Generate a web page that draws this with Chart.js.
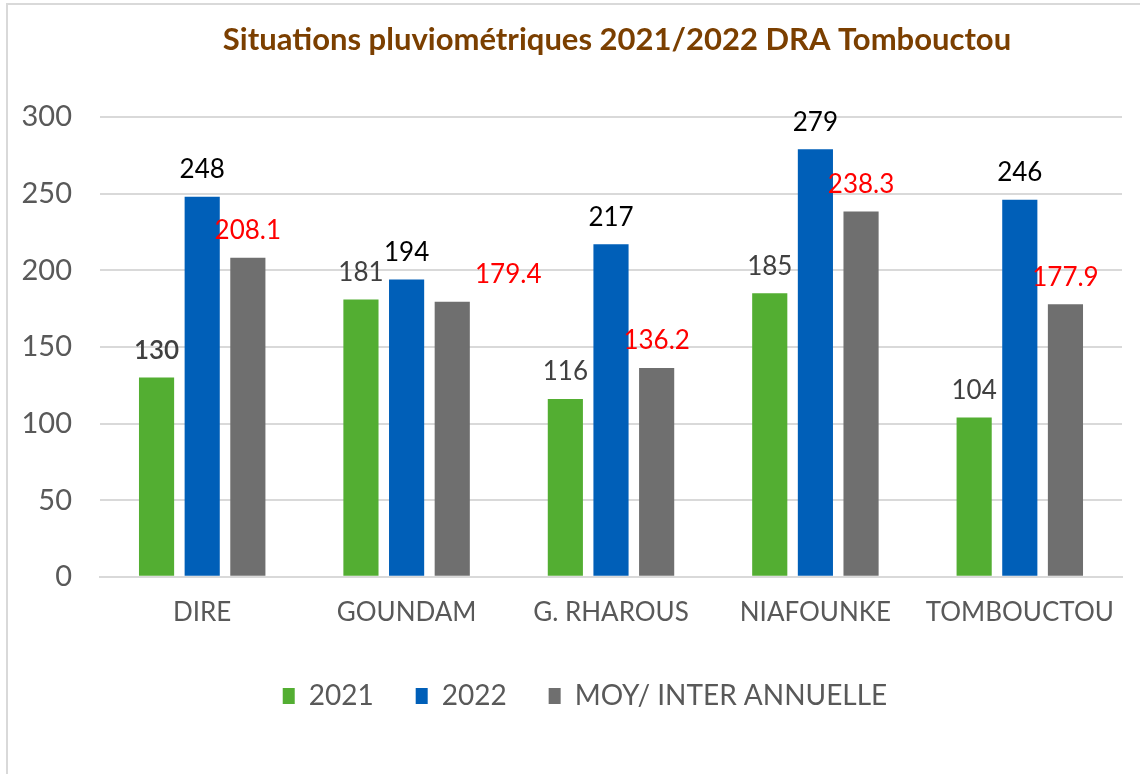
<!DOCTYPE html>
<html>
<head>
<meta charset="utf-8">
<script src="https://cdn.jsdelivr.net/npm/chart.js@4"></script>
<style>
  html, body { margin: 0; padding: 0; background: #fff; }
  #frame {
    position: absolute; left: 6px; top: 3px; width: 1134px; height: 771px;
    border-top: 2px solid #d9d9d9; border-left: 2px solid #d9d9d9;
  }
  #wrap { position: absolute; left: 0; top: 0; width: 1140px; height: 774px; }
</style>
</head>
<body>
<div id="frame"></div>
<div id="wrap"><canvas id="rain"></canvas></div>
<script>
// Rainfall per station (mm)
const stations = ['DIRE', 'GOUNDAM', 'G. RHAROUS', 'NIAFOUNKE', 'TOMBOUCTOU'];
const rain2021 = [130, 181, 116, 185, 104];
const rain2022 = [248, 194, 217, 279, 246];
const rainMoy = [208.1, 179.4, 136.2, 238.3, 177.9];
const seriesNames = ['2021', '2022', 'MOY/ INTER ANNUELLE'];
const yTicks = [0, 50, 100, 150, 200, 250, 300];

const titleText = 'Situations pluviométriques 2021/2022 DRA Tombouctou';
const FONT = "Lato, 'Open Sans', sans-serif";

Chart.defaults.font.family = FONT;
Chart.defaults.color = '#595959';

// labels above bars, each series in its own colour
const valueLabels = {
  id: 'valueLabels',
  afterDatasetsDraw(chart) {
    const ctx = chart.ctx;
    const colors = ['#404040', '#000000', '#ff0000'];
    // excel moved a couple of labels by hand
    const nudge = { '2-1': 56 };
    ctx.save();
    ctx.textAlign = 'center';
    ctx.textBaseline = 'middle';
    chart.data.datasets.forEach((ds, di) => {
      chart.getDatasetMeta(di).data.forEach((bar, i) => {
        const v = ds.data[i];
        const txt = Number.isInteger(v) ? String(v) : v.toFixed(1);
        ctx.font = (di === 0 && i === 0 ? '600 ' : '400 ') + '26px ' + FONT;
        ctx.fillStyle = colors[di];
        ctx.fillText(txt, bar.x + (nudge[di + '-' + i] || 0), bar.y - 27);
      });
    });
    ctx.restore();
  }
};

const chartTitle = {
  id: 'chartTitle',
  afterDraw(chart) {
    const ctx = chart.ctx;
    const area = chart.chartArea;
    ctx.save();
    ctx.font = "700 31px " + FONT;
    ctx.fillStyle = '#7b3f00';
    ctx.textAlign = 'center';
    ctx.textBaseline = 'middle';
    ctx.fillText(titleText, (area.left + area.right) / 2 + 6, 40);
    ctx.restore();
  }
};

// legend sits centred under the plot area rather than the canvas
const legendShift = {
  id: 'legendShift',
  afterLayout(chart) {
    chart.legend.left += 24;
    chart.legend.right += 24;
  }
};

new Chart(document.getElementById('rain'), {
  type: 'bar',
  data: {
    labels: stations,
    datasets: [
      { label: seriesNames[0], data: rain2021, backgroundColor: '#53ae32' },
      { label: seriesNames[1], data: rain2022, backgroundColor: '#005fb8' },
      { label: seriesNames[2], data: rainMoy, backgroundColor: '#6f6f6f' }
    ]
  },
  options: {
    responsive: true,
    maintainAspectRatio: false,
    animation: false,
    categoryPercentage: 0.67,
    barPercentage: 0.77,
    layout: { padding: { top: 117, right: 18, bottom: 54, left: 0 } },
    scales: {
      x: {
        grid: { display: false },
        border: { color: '#d9d9d9', width: 2 },
        ticks: { color: '#595959', font: { size: 26 }, padding: 12 }
      },
      y: {
        min: 0,
        max: 300,
        afterFit(scale) { scale.width = 100; },
        afterBuildTicks(scale) { scale.ticks = yTicks.map(v => ({ value: v })); },
        grid: { color: '#d9d9d9', lineWidth: 2, drawTicks: false },
        border: { display: false },
        ticks: { color: '#595959', font: { size: 29 }, padding: 28 }
      }
    },
    plugins: {
      legend: {
        position: 'bottom',
        labels: {
          boxWidth: 12,
          boxHeight: 16,
          padding: 42,
          color: '#595959',
          font: { size: 28 }
        }
      },
      tooltip: { enabled: false }
    }
  },
  plugins: [valueLabels, chartTitle, legendShift]
});
</script>
</body>
</html>
